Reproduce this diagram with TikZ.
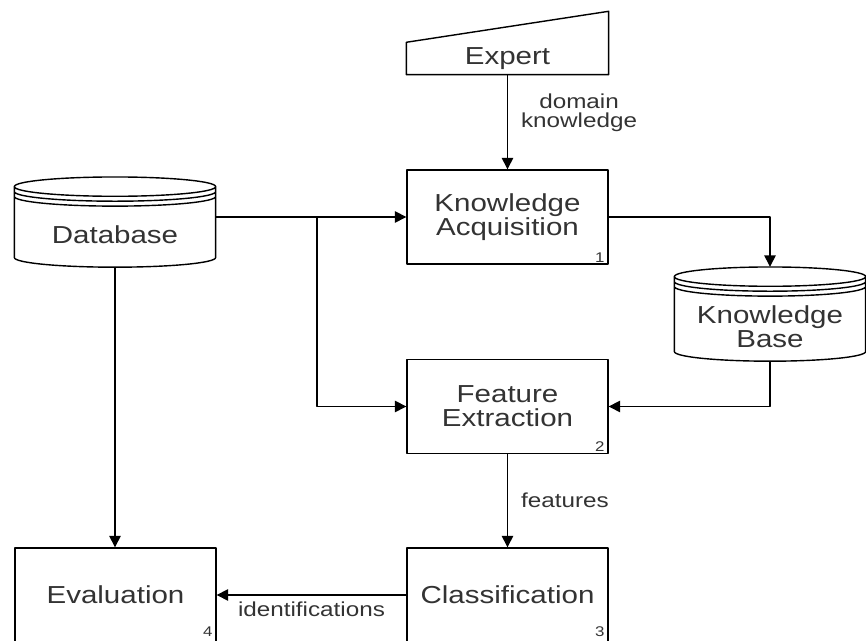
\documentclass[tikz,border=0pt]{standalone}
\usepackage{fontspec}
\setmainfont{Liberation Sans}[FakeStretch=1.2]
\usetikzlibrary{arrows.meta,calc}
\definecolor{txtgray}{HTML}{333333}
\newcommand{\drawstore}[1]{%
	\draw let \p1=(#1.north west), \p2=(#1.south east), \n1={0.5*(\x2-\x1)} in
		(\x1,\y1+9.2pt) arc[start angle=180, end angle=-180, x radius=\n1, y radius=5.5pt]
		(\x1,\y1+6.4pt) arc[start angle=180, end angle=360, x radius=\n1, y radius=5.5pt]
		(\x1,\y1+3.6pt) arc[start angle=180, end angle=360, x radius=\n1, y radius=5.5pt]
		(\x1,\y1+9.2pt) -- (\x1,\y2+5.5pt) arc[start angle=180, end angle=360, x radius=\n1, y radius=5.5pt] -- (\x2,\y1+9.2pt);
}
\tikzset{
	proc/.style={draw, rectangle, minimum width=4.02cm, minimum height=1.88cm, inner sep=0pt, align=center, text=txtgray, font=\fontsize{14}{13.5}\selectfont},
	store/.style={rectangle, minimum width=4cm, minimum height=1.26cm, inner sep=0pt, align=center, text=txtgray, font=\fontsize{14}{13.5}\selectfont},
	lbl/.style={align=center, text=txtgray, font=\fontsize{11.5}{11}\selectfont},
	num/.style={anchor=south east, inner sep=0pt, text=txtgray, font=\fontsize{8}{9}\selectfont},
}
\begin{document}
\begin{tikzpicture}[x=0.02cm,y=0.02cm,line join=round,line width=0.8pt,>={Triangle[length=6.5pt,width=6.5pt]}]
	\clip (0,0) rectangle (866,641);
	\node[proc, draw=none, minimum height=0.62cm] (expert) at (507.5,582.5) {Expert};
	\draw (expert.north west) -- (expert.south west) -- (expert.south east) -- ([yshift=0.62cm]expert.north east) -- cycle;
	\node[proc] (ka) at (507.5,424) {Knowledge\\Acquisition};
	\node[proc] (fe) at (507.5,234.5) {Feature\\Extraction};
	\node[proc] (cls) at (507.5,46) {Classification};
	\node[proc] (eval) at (115.5,46) {Evaluation};
	\node[store] (db) at (115,406) {Database};
	\node[store, minimum width=3.8cm, minimum height=1.34cm] (kb) at (770,314) {Knowledge\\Base};
	\drawstore{db}
	\drawstore{kb}
	\node[num] (ka-no) at ([shift={(-2pt,1pt)}]ka.south east) {1};
	\node[num] (fe-no) at ([shift={(-2pt,1pt)}]fe.south east) {2};
	\node[num] (cls-no) at ([shift={(-2pt,3pt)}]cls.south east) {3};
	\node[num] (eval-no) at ([shift={(-2pt,3pt)}]eval.south east) {4};
	\coordinate (split) at (317,424);
	\draw[->] (expert) -- (ka) node[lbl, pos=0.4, right, xshift=4pt] {domain\\knowledge};
	\draw[->] (db.east |- ka.west) -- (ka.west);
	\draw[->] (split) |- (fe.west);
	\draw[->] (ka.east) -| ([yshift=0.52cm]kb.north);
	\draw[->] (kb.south) |- (fe.east);
	\draw[->] (fe) -- (cls) node[lbl, midway, right, xshift=4pt] {features};
	\draw[->] (db.south) -- (db.south |- eval.north);
	\draw[->] (cls) -- (eval) node[lbl, midway, below] {identifications};
\end{tikzpicture}
\end{document}
